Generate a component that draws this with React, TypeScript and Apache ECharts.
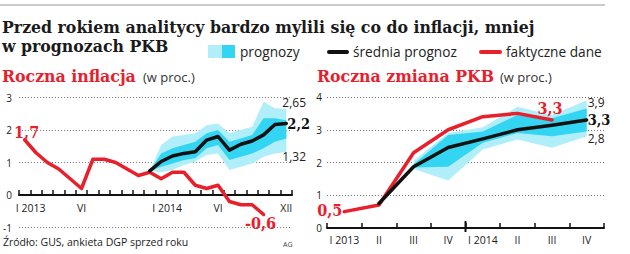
import React, { useEffect, useRef } from 'react';
import * as echarts from 'echarts';

// ---------- data ----------
const months = [
  '2013-01', '2013-02', '2013-03', '2013-04', '2013-05', '2013-06',
  '2013-07', '2013-08', '2013-09', '2013-10', '2013-11', '2013-12',
  '2014-01', '2014-02', '2014-03', '2014-04', '2014-05', '2014-06',
  '2014-07', '2014-08', '2014-09', '2014-10', '2014-11', '2014-12',
];
const monthTickLabels = [
  'I 2013', '', '', '', '', 'VI', '', '', '', '', '', '',
  'I 2014', '', '', '', '', 'VI', '', '', '', '', '', 'XII',
];
const inflActual = [1.7, 1.3, 1.0, 0.8, 0.5, 0.2, 1.1, 1.1, 1.0, 0.8, 0.6, 0.7,
  0.5, 0.7, 0.7, 0.3, 0.2, 0.3, -0.2, -0.3, -0.3, -0.6, null, null];
const inflMean = [null, null, null, null, null, null, null, null, null, null, null, 0.74,
  1.03, 1.2, 1.28, 1.33, 1.69, 1.8, 1.38, 1.56, 1.66, 1.85, 2.17, 2.2];
const inflLightHi = [null, null, null, null, null, null, null, null, null, null, null, 0.74,
  1.54, 1.8, 1.85, 1.9, 2.15, 2.2, 1.9, 2.0, 2.1, 2.87, 2.67, 2.65];
const inflLightLo = [null, null, null, null, null, null, null, null, null, null, null, 0.74,
  0.7, 0.77, 0.92, 1.03, 1.23, 1.28, 0.77, 0.87, 0.97, 1.18, 1.28, 1.32];
const inflDarkHi = [null, null, null, null, null, null, null, null, null, null, null, 0.74,
  1.28, 1.44, 1.54, 1.64, 1.9, 2.0, 1.64, 1.74, 1.85, 2.36, 2.36, 2.3];
const inflDarkLo = [null, null, null, null, null, null, null, null, null, null, null, 0.74,
  0.87, 0.97, 1.08, 1.13, 1.44, 1.54, 1.08, 1.18, 1.28, 1.44, 1.64, 1.74];
const inflTicks = [-1, 0, 1, 2, 3];

const quarters = ['2013Q1', '2013Q2', '2013Q3', '2013Q4', '2014Q1', '2014Q2', '2014Q3', '2014Q4'];
const quarterTickLabels = ['I 2013', 'II', 'III', 'IV', 'I 2014', 'II', 'III', 'IV'];
const gdpActual = [0.5, 0.7, 2.3, 3.0, 3.4, 3.5, 3.3, null];
const gdpMean = [null, 0.75, 1.87, 2.46, 2.72, 3.0, 3.14, 3.3];
const gdpLightHi = [null, null, 2.05, 2.9, 3.08, 3.7, 3.45, 3.9];
const gdpLightLo = [null, null, 1.8, 1.45, 2.4, 2.7, 2.45, 2.8];
const gdpDarkHi = [null, null, 1.95, 2.84, 2.95, 3.45, 3.35, 3.65];
const gdpDarkLo = [null, null, 1.85, 1.87, 2.6, 2.9, 2.8, 2.95];
const gdpTicks = [0, 1, 2, 3, 4];

// ---------- styles ----------
const RED = '#e8202c';
const BLACK = '#111111';
const LIGHT = '#b0eefa';
const DARK = '#33d5f2';
const SANS = '"Open Sans", "Noto Sans", sans-serif';
const SLAB = '"DejaVu Serif Condensed", "DejaVu Serif", serif';

const fmt = (v: number) => String(v).replace('.', ',');

function band(lo: (number | null)[], hi: (number | null)[], color: string, stack: string, xi: number, z: number) {
  const diff = hi.map((h, i) => (h == null || lo[i] == null ? null : +(h - (lo[i] as number)).toFixed(3)));
  const common = {
    type: 'line', xAxisIndex: xi, yAxisIndex: xi, stack, showSymbol: false,
    symbol: 'none', silent: true, z, connectNulls: false,
  };
  return [
    { ...common, data: lo, lineStyle: { width: 0, opacity: 0 } },
    { ...common, data: diff, lineStyle: { width: 0, opacity: 0 }, areaStyle: { color, opacity: 1 } },
  ];
}

function mp(items: any[]) {
  return { symbol: 'circle', symbolSize: 0, silent: true, data: items };
}

export default function App() {
  const ref = useRef<HTMLDivElement>(null);
  useEffect(() => {
    if (!ref.current) return;
    const chart = echarts.init(ref.current, undefined, { renderer: 'svg' });
    const redLbl = { fontFamily: SLAB, fontWeight: 'bold', fontSize: 16, color: RED };
    const blackLbl = { fontFamily: SLAB, fontWeight: 'bold', fontSize: 14.5, color: BLACK };
    const smallLbl = { fontFamily: SANS, fontSize: 12, color: '#222' };
    const lineCommon = {
      type: 'line', showSymbol: false, symbol: 'none', connectNulls: false,
      lineStyle: { width: 3.5, cap: 'round', join: 'round' },
    };
    const xAxisBase = {
      type: 'category', boundaryGap: true,
      axisLine: { onZero: true, lineStyle: { color: BLACK, width: 2 } },
      axisTick: { show: true, inside: true, length: 5, interval: 0, lineStyle: { color: BLACK, width: 1.5 } },
      splitLine: { show: false },
    };
    const yAxisBase = {
      type: 'value', interval: 1,
      axisLine: { show: false }, axisTick: { show: false },
      splitLine: { show: true, lineStyle: { color: '#777', width: 1, type: [1, 2] } },
      axisLabel: { fontFamily: SANS, fontSize: 10, color: '#222' },
    };
    const last = months.length - 1;
    const lastQ = quarters.length - 1;
    chart.setOption({
      animation: false,
      grid: [
        { left: 15, right: 338, top: 97.5, bottom: 26.5 },
        { left: 327, right: 26, top: 97, bottom: 26 },
      ],
      xAxis: [
        {
          ...xAxisBase, gridIndex: 0, data: months,
          axisLabel: {
            interval: 0, margin: -25.5, fontFamily: SANS, fontSize: 10.5, color: '#222',
            formatter: (_v: string, i: number) => (monthTickLabels[i].startsWith('I ') ? `{s|${monthTickLabels[i]}}` : monthTickLabels[i]),
            rich: { s: { fontFamily: SANS, fontSize: 10.5, color: '#222', padding: [0, 0, 0, 12] } },
          },
        },
        {
          ...xAxisBase, gridIndex: 1, data: quarters,
          axisLabel: {
            interval: 0, margin: 6, fontFamily: SANS, fontSize: 10.5, color: '#222',
            formatter: (_v: string, i: number) => quarterTickLabels[i],
          },
        },
      ],
      yAxis: [
        { ...yAxisBase, gridIndex: 0, min: inflTicks[0], max: inflTicks[inflTicks.length - 1], axisLabel: { ...yAxisBase.axisLabel, margin: 7 } },
        { ...yAxisBase, gridIndex: 1, min: gdpTicks[0], max: gdpTicks[gdpTicks.length - 1], axisLabel: { ...yAxisBase.axisLabel, margin: 5 } },
      ],
      series: [
        ...band(inflLightLo, inflLightHi, LIGHT, 'iL', 0, 1),
        ...band(inflDarkLo, inflDarkHi, DARK, 'iD', 0, 2),
        {
          ...lineCommon, xAxisIndex: 0, yAxisIndex: 0, data: inflActual, z: 3,
          lineStyle: { ...lineCommon.lineStyle, color: RED },
          markPoint: mp([
            { coord: [months[0], inflActual[0]], value: inflActual[0], label: { ...redLbl, position: 'top', distance: 1, offset: [2, 2], formatter: fmt(inflActual[0] as number) } },
            { coord: [months[21], inflActual[21]], value: inflActual[21], label: { ...redLbl, position: 'bottom', distance: 1, offset: [-3, 0], formatter: fmt(inflActual[21] as number) } },
          ]),
        },
        {
          ...lineCommon, xAxisIndex: 0, yAxisIndex: 0, data: inflMean, z: 4,
          lineStyle: { ...lineCommon.lineStyle, color: BLACK },
          markPoint: mp([
            { coord: [months[last], inflMean[last]], value: inflMean[last], label: { ...blackLbl, position: 'right', distance: 1, offset: [0, 0], formatter: fmt(inflMean[last] as number) } },
            { coord: [months[last], inflLightHi[last]], value: inflLightHi[last], label: { ...smallLbl, position: 'right', distance: 0, offset: [-4, -6], formatter: fmt(inflLightHi[last] as number) } },
            { coord: [months[last], inflLightLo[last]], value: inflLightLo[last], label: { ...smallLbl, position: 'right', distance: 0, offset: [-4, 4], formatter: fmt(inflLightLo[last] as number) } },
          ]),
        },
        ...band(gdpLightLo, gdpLightHi, LIGHT, 'gL', 1, 1),
        ...band(gdpDarkLo, gdpDarkHi, DARK, 'gD', 1, 2),
        {
          ...lineCommon, xAxisIndex: 1, yAxisIndex: 1, data: gdpActual, z: 3,
          lineStyle: { ...lineCommon.lineStyle, color: RED },
          markPoint: mp([
            { coord: [quarters[0], gdpActual[0]], value: gdpActual[0], label: { ...redLbl, position: 'left', distance: 2, offset: [0, -1], formatter: fmt(gdpActual[0] as number) } },
            { coord: [quarters[6], gdpActual[6]], value: gdpActual[6], label: { ...redLbl, position: 'top', distance: 3, offset: [-2, 0], formatter: fmt(gdpActual[6] as number) } },
          ]),
        },
        {
          ...lineCommon, xAxisIndex: 1, yAxisIndex: 1, data: gdpMean, z: 4,
          lineStyle: { ...lineCommon.lineStyle, color: BLACK },
          markPoint: mp([
            { coord: [quarters[lastQ], gdpMean[lastQ]], value: gdpMean[lastQ], label: { ...blackLbl, position: 'right', distance: 1, offset: [0, 0], formatter: fmt(gdpMean[lastQ] as number) } },
            { coord: [quarters[lastQ], gdpLightHi[lastQ]], value: gdpLightHi[lastQ], label: { ...smallLbl, position: 'right', distance: 1, offset: [0, 2], formatter: fmt(gdpLightHi[lastQ] as number) } },
            { coord: [quarters[lastQ], gdpLightLo[lastQ]], value: gdpLightLo[lastQ], label: { ...smallLbl, position: 'right', distance: 1, offset: [0, 2], formatter: fmt(gdpLightLo[lastQ] as number) } },
          ]),
        },
      ],
      graphic: [
        { type: 'line', id: 'rule', shape: { x1: 0, y1: 5, x2: 605, y2: 5 }, style: { stroke: '#9a9a9a', lineWidth: 1.2 } },
        { type: 'text', x: 2, y: 26.5, style: { text: 'Przed rokiem analitycy bardzo mylili się co do inflacji, mniej', font: `bold 17.5px ${SLAB}`, fill: '#1a1a1a', verticalAlign: 'middle' } },
        { type: 'text', x: 2, y: 45.5, style: { text: 'w prognozach PKB', font: `bold 17.5px ${SLAB}`, fill: '#1a1a1a', verticalAlign: 'middle' } },
        { type: 'rect', shape: { x: 208, y: 45, width: 14, height: 13 }, style: { fill: LIGHT } },
        { type: 'rect', shape: { x: 222, y: 45, width: 13, height: 13 }, style: { fill: DARK } },
        { type: 'text', x: 240, y: 51.5, style: { text: 'prognozy', font: `13.7px ${SANS}`, fill: '#222', verticalAlign: 'middle' } },
        { type: 'line', shape: { x1: 329, y1: 52, x2: 347, y2: 52 }, style: { stroke: BLACK, lineWidth: 4, lineCap: 'round' } },
        { type: 'text', x: 353, y: 51.5, style: { text: 'średnia prognoz', font: `13.7px ${SANS}`, fill: '#222', verticalAlign: 'middle' } },
        { type: 'line', shape: { x1: 481, y1: 52, x2: 500, y2: 52 }, style: { stroke: RED, lineWidth: 4, lineCap: 'round' } },
        { type: 'text', x: 506, y: 51.5, style: { text: 'faktyczne dane', font: `13.7px ${SANS}`, fill: '#222', verticalAlign: 'middle' } },
        { type: 'text', x: 2, y: 75.5, style: { text: 'Roczna inflacja', font: `bold 17.5px ${SLAB}`, fill: RED, verticalAlign: 'middle' } },
        { type: 'text', x: 143, y: 77, style: { text: '(w proc.)', font: `13px ${SANS}`, fill: '#333', verticalAlign: 'middle' } },
        { type: 'text', x: 317, y: 75.5, style: { text: 'Roczna zmiana PKB', font: `bold 17.5px ${SLAB}`, fill: RED, verticalAlign: 'middle' } },
        { type: 'text', x: 500, y: 77, style: { text: '(w proc.)', font: `13px ${SANS}`, fill: '#333', verticalAlign: 'middle' } },
        { type: 'text', x: 3, y: 242, style: { text: 'Źródło: GUS, ankieta DGP sprzed roku', font: `10.5px ${SANS}`, fill: '#222', verticalAlign: 'middle' } },
        { type: 'text', x: 283, y: 244, style: { text: 'AG', font: `7px ${SANS}`, fill: '#444', verticalAlign: 'middle' } },
      ],
    });
    // taller tick at the start of 2014 on the GDP axis
    const c0 = chart.convertToPixel({ xAxisIndex: 1 }, quarters[3]) as number;
    const c1 = chart.convertToPixel({ xAxisIndex: 1 }, quarters[4]) as number;
    const y0 = chart.convertToPixel({ yAxisIndex: 1 }, 0) as number;
    const bx = (c0 + c1) / 2;
    chart.setOption({
      graphic: [{ type: 'line', id: 'tallTick', shape: { x1: bx, y1: y0 - 7, x2: bx, y2: y0 + 4 }, style: { stroke: BLACK, lineWidth: 2 }, z: 10 }],
    });
    return () => chart.dispose();
  }, []);
  return <div ref={ref} style={{ width: 630, height: 254, position: 'absolute', left: 0, top: 0 }} />;
}
